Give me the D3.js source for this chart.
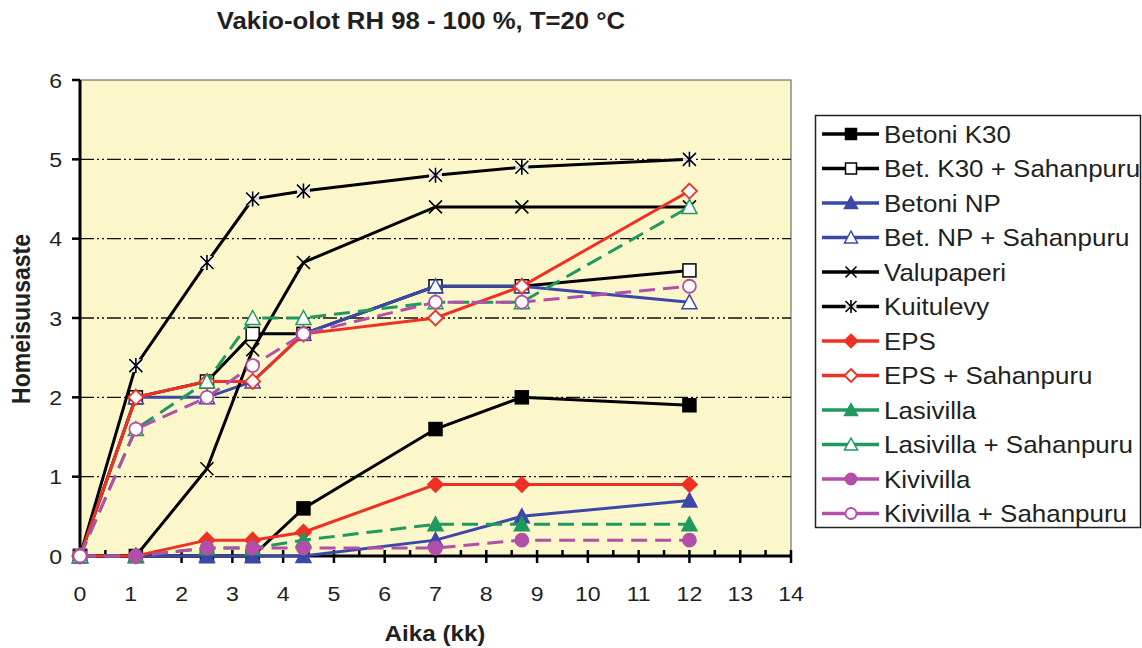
<!DOCTYPE html>
<html>
<head>
<meta charset="utf-8">
<script src="https://cdn.jsdelivr.net/npm/d3@7"></script>
<style>
  body { margin: 0; background: #fff; }
  text { font-family: "Liberation Sans", Arial, sans-serif; fill: #231f20; }
</style>
</head>
<body>
<div id="chart"></div>
<script>
// Data (x = months, y = mould index)
const months = [0, 1.1, 2.5, 3.4, 4.4, 7, 8.7, 12];

const betoniK30 = [0, 0, 0, 0, 0.6, 1.6, 2.0, 1.9];
const betoniK30Sah = [0, 2.0, 2.2, 2.8, 2.8, 3.4, 3.4, 3.6];
const betoniNP = [0, 0, 0, 0, 0, 0.2, 0.5, 0.7];
const betoniNPSah = [0, 2.0, 2.0, 2.2, 2.8, 3.4, 3.4, 3.2];
const valupaperi = [0, 0, 1.1, 2.6, 3.7, 4.4, 4.4, 4.4];
const kuitulevy = [0, 2.4, 3.7, 4.5, 4.6, 4.8, 4.9, 5.0];
const eps = [0, 0, 0.2, 0.2, 0.3, 0.9, 0.9, 0.9];
const epsSah = [0, 2.0, 2.2, 2.2, 2.8, 3.0, 3.4, 4.6];
const lasivilla = [0, 0, 0.1, 0.1, 0.2, 0.4, 0.4, 0.4];
const lasivillaSah = [0, 1.6, 2.2, 3.0, 3.0, 3.2, 3.2, 4.4];
const kivivilla = [0, 0, 0.1, 0.1, 0.1, 0.1, 0.2, 0.2];
const kivivillaSah = [0, 1.6, 2.0, 2.4, 2.8, 3.2, 3.2, 3.4];

const xTicks = d3.range(0, 15);
const yTicks = [0, 1, 2, 3, 4, 5, 6];

const title = "Vakio-olot RH 98 - 100 %, T=20 °C";
const xTitle = "Aika (kk)";
const yTitle = "Homeisuusaste";

// series styling
const BLACK = "#000", BLUE = "#3c48a8", RED = "#ee3124", GREEN = "#1f9a5c", PURPLE = "#b24fa8";
const series = [
  { name: "Betoni K30", values: betoniK30, color: BLACK, marker: "square", filled: true, dash: null },
  { name: "Bet. K30 + Sahanpuru", values: betoniK30Sah, color: BLACK, marker: "square", filled: false, dash: null },
  { name: "Betoni NP", values: betoniNP, color: BLUE, marker: "triangle", filled: true, dash: null },
  { name: "Bet. NP + Sahanpuru", values: betoniNPSah, color: BLUE, marker: "triangle", filled: false, dash: null },
  { name: "Valupaperi", values: valupaperi, color: BLACK, marker: "x", filled: false, dash: null },
  { name: "Kuitulevy", values: kuitulevy, color: BLACK, marker: "star", filled: false, dash: null },
  { name: "EPS", values: eps, color: RED, marker: "diamond", filled: true, dash: null },
  { name: "EPS + Sahanpuru", values: epsSah, color: RED, marker: "diamond", filled: false, dash: null },
  { name: "Lasivilla", values: lasivilla, color: GREEN, marker: "triangle", filled: true, dash: "16,8" },
  { name: "Lasivilla + Sahanpuru", values: lasivillaSah, color: GREEN, marker: "triangle", filled: false, dash: "16,8" },
  { name: "Kivivilla", values: kivivilla, color: PURPLE, marker: "circle", filled: true, dash: "16,8" },
  { name: "Kivivilla + Sahanpuru", values: kivivillaSah, color: PURPLE, marker: "circle", filled: false, dash: "16,8" }
];

const width = 1142, height = 648;
const plot = { left: 80, right: 791, top: 80, bottom: 556 };
const STRETCH = 1.1; // text in the reference is slightly wide

const svg = d3.select("#chart").append("svg")
  .attr("width", width).attr("height", height);

const x = d3.scaleLinear().domain([0, 14]).range([plot.left, plot.right]);
const y = d3.scaleLinear().domain([0, 6]).range([plot.bottom, plot.top]);

function addText(parent, tx, ty, str, opts) {
  const o = opts || {};
  const rot = o.rotate ? ` rotate(${o.rotate}) scale(1,${STRETCH})` : ` scale(${STRETCH},1)`;
  return parent.append("text")
    .attr("transform", `translate(${tx},${ty})` + rot)
    .attr("text-anchor", o.anchor || "start")
    .style("font-size", (o.size || 21) + "px")
    .style("font-weight", o.bold ? "bold" : "normal")
    .text(str);
}

// plot background
svg.append("rect")
  .attr("x", plot.left).attr("y", plot.top)
  .attr("width", plot.right - plot.left).attr("height", plot.bottom - plot.top)
  .attr("fill", "#fbf7cb")
  .attr("stroke", "#555").attr("stroke-width", 1);

// gridlines (dash-dot-dot)
svg.append("g").selectAll("line")
  .data(yTicks.filter(d => d > 0 && d < 6))
  .enter().append("line")
  .attr("x1", plot.left).attr("x2", plot.right)
  .attr("y1", d => y(d)).attr("y2", d => y(d))
  .attr("stroke", "#111").attr("stroke-width", 1.3)
  .attr("stroke-dasharray", "14,3,2,3,2,3");

// y axis
const yAxis = svg.append("g");
yAxis.append("line")
  .attr("x1", plot.left).attr("x2", plot.left)
  .attr("y1", plot.top).attr("y2", plot.bottom)
  .attr("stroke", "#000").attr("stroke-width", 3);
yAxis.selectAll(".tick").data(yTicks).enter().append("line")
  .attr("x1", plot.left - 8).attr("x2", plot.left)
  .attr("y1", d => y(d)).attr("y2", d => y(d))
  .attr("stroke", "#000").attr("stroke-width", 2.5);
yTicks.forEach(d => addText(svg, 62, y(d) + 7.5, d, { anchor: "end", size: 21 }));

// x axis
const xAxis = svg.append("g");
xAxis.append("line")
  .attr("x1", plot.left).attr("x2", plot.right)
  .attr("y1", plot.bottom).attr("y2", plot.bottom)
  .attr("stroke", "#000").attr("stroke-width", 3);
xAxis.selectAll(".major").data(xTicks).enter().append("line")
  .attr("x1", d => x(d)).attr("x2", d => x(d))
  .attr("y1", plot.bottom - 6).attr("y2", plot.bottom + 7)
  .attr("stroke", "#000").attr("stroke-width", 2.5);
xAxis.selectAll(".minor").data(xTicks.slice(0, -1)).enter().append("line")
  .attr("x1", d => x(d + 0.5)).attr("x2", d => x(d + 0.5))
  .attr("y1", plot.bottom - 6).attr("y2", plot.bottom)
  .attr("stroke", "#000").attr("stroke-width", 2.5);
xTicks.forEach(d => addText(svg, x(d), 601, d, { anchor: "middle", size: 21 }));

// titles
addText(svg, 421, 29, title, { anchor: "middle", size: 23.4, bold: true });
addText(svg, 435, 641, xTitle, { anchor: "middle", size: 22, bold: true });
addText(svg, 30, 319, yTitle, { anchor: "middle", size: 23, bold: true, rotate: -90 });

// markers
function drawMarker(g, cx, cy, s, size) {
  const fill = s.filled ? s.color : "#fff";
  const h = size / 2;
  if (s.marker === "square") {
    g.append("rect").attr("x", cx - h).attr("y", cy - h).attr("width", size).attr("height", size)
      .attr("fill", fill).attr("stroke", s.color).attr("stroke-width", 1.5);
  } else if (s.marker === "triangle") {
    g.append("path")
      .attr("d", `M${cx},${cy - h - 1}L${cx + h + 1},${cy + h}L${cx - h - 1},${cy + h}Z`)
      .attr("fill", fill).attr("stroke", s.color).attr("stroke-width", 1.5);
  } else if (s.marker === "diamond") {
    g.append("path")
      .attr("d", `M${cx},${cy - h - 1}L${cx + h + 1},${cy}L${cx},${cy + h + 1}L${cx - h - 1},${cy}Z`)
      .attr("fill", fill).attr("stroke", s.color).attr("stroke-width", 1.8);
  } else if (s.marker === "circle") {
    g.append("circle").attr("cx", cx).attr("cy", cy).attr("r", h)
      .attr("fill", fill).attr("stroke", s.color).attr("stroke-width", 1.8);
  } else if (s.marker === "x" || s.marker === "star") {
    if (s.marker === "star") {
      g.append("rect").attr("x", cx - h).attr("y", cy - h).attr("width", size).attr("height", size)
        .attr("fill", "#fff").attr("opacity", 0.85);
    }
    g.append("path")
      .attr("d", `M${cx - h},${cy - h}L${cx + h},${cy + h}M${cx - h},${cy + h}L${cx + h},${cy - h}` +
        (s.marker === "star" ? `M${cx},${cy - h - 1}L${cx},${cy + h + 1}` : ""))
      .attr("stroke", s.color).attr("stroke-width", 1.6).attr("fill", "none");
  }
}

const line = d3.line().x(d => x(d[0])).y(d => y(d[1]));
const linesG = svg.append("g");
series.forEach(s => {
  const pts = months.map((m, i) => [m, s.values[i]]);
  const g = linesG.append("g");
  g.append("path")
    .attr("d", line(pts))
    .attr("fill", "none")
    .attr("stroke", s.color)
    .attr("stroke-width", 3)
    .attr("stroke-dasharray", s.dash);
  pts.forEach(p => drawMarker(g, x(p[0]), y(p[1]), s, 13));
});

// legend
const legend = svg.append("g");
legend.append("rect")
  .attr("x", 815.5).attr("y", 115.5).attr("width", 325).attr("height", 412)
  .attr("fill", "#fff").attr("stroke", "#222").attr("stroke-width", 1.5);
series.forEach((s, i) => {
  const ly = 134 + i * 34.5;
  const g = legend.append("g");
  g.append("line").attr("x1", 822).attr("x2", 879).attr("y1", ly).attr("y2", ly)
    .attr("stroke", s.color).attr("stroke-width", 3.5);
  drawMarker(g, 851, ly, s, 11);
  addText(g, 884, ly + 8.5, s.name, { size: 23.6 });
});
</script>
</body>
</html>
